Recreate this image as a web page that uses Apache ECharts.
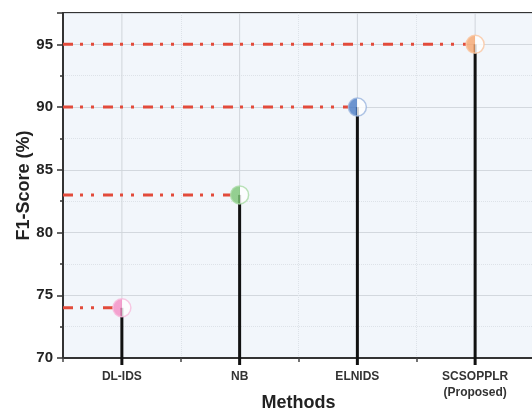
<!DOCTYPE html>
<html>
<head>
<meta charset="utf-8">
<script src="https://cdn.jsdelivr.net/npm/echarts@6/dist/echarts.min.js"></script>
<style>html,body{margin:0;padding:0;background:#fff}#c{width:532px;height:410px}</style>
</head>
<body>
<div id="c"></div>
<script>
const categories = ['DL-IDS', 'NB', 'ELNIDS', 'SCSOPPLR\n(Proposed)'];
const f1Scores = [74, 83, 90, 95];
const fillColors = ['#f48cc4', '#7cc576', '#4a7bc4', '#f7a66e'];
const edgeColors = ['#f8bcdc', '#a9dba5', '#9bb5de', '#fac6a0'];
const yMin = 70, yMax = 97.5, yStep = 5;

const font = 'Liberation Sans, Arial, sans-serif';
const chart = echarts.init(document.getElementById('c'), null, {renderer: 'canvas'});

const pts = categories.map((c, i) => [i, f1Scores[i]]);

function halfFill(c) {
  return new echarts.graphic.LinearGradient(0, 0, 1, 0, [
    {offset: 0, color: c}, {offset: 0.5, color: c},
    {offset: 0.5, color: '#ffffff'}, {offset: 1, color: '#ffffff'}
  ]);
}

chart.setOption({
  animation: false,
  grid: {left: 63, top: 13, right: -2, bottom: 52, show: true, containLabel: false,
         outerBoundsMode: 'none',
         backgroundColor: '#f2f6fb', borderColor: '#333', borderWidth: 2},
  xAxis: {
    type: 'category', data: categories, boundaryGap: true,
    name: 'Methods', nameLocation: 'middle', nameGap: 36, nameMoveOverlap: false,
    nameTextStyle: {fontFamily: font, fontWeight: 'bold', fontSize: 18, color: '#222'},
    axisLine: {lineStyle: {color: '#333', width: 2}},
    axisTick: {show: true, length: 4, lineStyle: {color: '#444', width: 1.5}},
    axisLabel: {fontFamily: font, fontWeight: 'bold', fontSize: 12, color: '#333', margin: 11, lineHeight: 16},
    splitLine: {show: true, lineStyle: {color: '#dde2e8', type: 'dotted', width: 1}}
  },
  yAxis: {
    type: 'value', min: yMin, max: yMax, interval: yStep,
    name: 'F1-Score (%)', nameLocation: 'middle', nameGap: 30, nameMoveOverlap: false,
    nameTextStyle: {fontFamily: font, fontWeight: 'bold', fontSize: 18, color: '#222'},
    axisLine: {show: true, lineStyle: {color: '#333', width: 2}},
    axisTick: {show: true, length: 6, lineStyle: {color: '#333', width: 1.5}},
    minorTick: {show: true, splitNumber: 2, length: 3, lineStyle: {color: '#333', width: 1.5}},
    axisLabel: {fontFamily: font, fontWeight: 'bold', fontSize: 15, color: '#222', margin: 10,
                showMaxLabel: false, formatter: v => (v % yStep === 0 ? String(v) : '')},
    splitLine: {show: true, lineStyle: {color: '#d3d8de', width: 1}},
    minorSplitLine: {show: true, lineStyle: {color: '#dde2e8', type: 'dotted', width: 1}}
  },
  series: [
    {
      type: 'custom', z: 1, silent: true, data: pts, encode: {x: 0, y: 1},
      renderItem: function (params, api) {
        const p = api.coord([api.value(0), api.value(1)]);
        const cs = params.coordSys;
        return {type: 'line', shape: {x1: p[0], y1: cs.y, x2: p[0], y2: cs.y + cs.height},
                style: {stroke: '#d0d5db', lineWidth: 1}};
      }
    },
    {
      type: 'custom', z: 2, silent: true, data: pts, encode: {x: 0, y: 1}, clip: false,
      renderItem: function (params, api) {
        const i = api.value(0), v = api.value(1);
        const p = api.coord([i, v]);
        const base = api.coord([i, yMin]);
        const cs = params.coordSys;
        return {type: 'group', children: [
          {type: 'line', shape: {x1: cs.x, y1: p[1], x2: p[0] - 9, y2: p[1]},
           style: {stroke: '#e24b3b', lineWidth: 3, lineDash: [10, 7, 3, 8, 3, 9]}},
          {type: 'line', shape: {x1: p[0], y1: p[1], x2: p[0], y2: base[1] + 7},
           style: {stroke: '#111', lineWidth: 3}}
        ]};
      }
    },
    {
      type: 'scatter', z: 3, symbol: 'circle', symbolSize: 18,
      data: pts.map((d, i) => ({value: d, itemStyle: {color: halfFill(fillColors[i]),
            borderColor: edgeColors[i], borderWidth: 1.5}}))
    }
  ]
});
</script>
</body>
</html>
